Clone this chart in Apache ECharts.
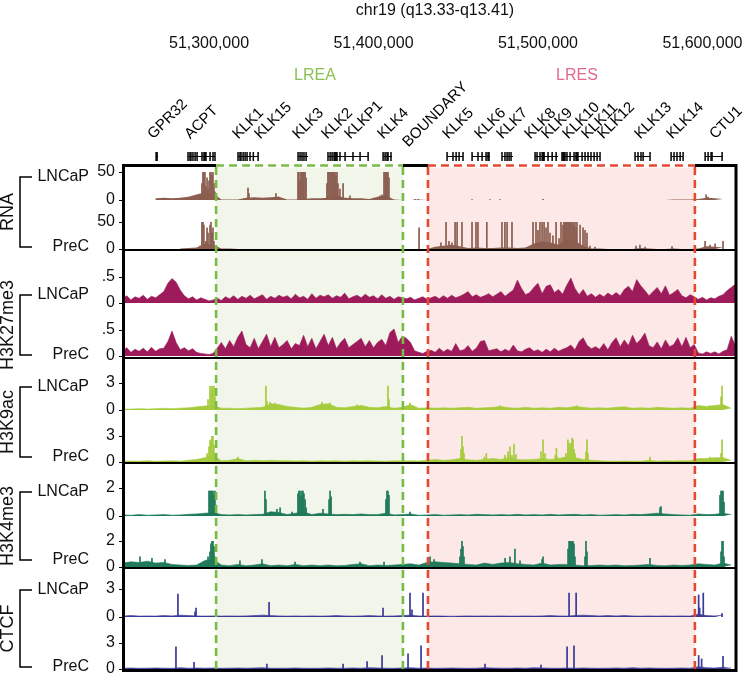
<!DOCTYPE html>
<html><head><meta charset="utf-8">
<script src="https://cdn.jsdelivr.net/npm/echarts@6/dist/echarts.min.js"></script>
<style>html,body{margin:0;padding:0;background:#fff}#c{width:746px;height:677px}</style>
</head><body><div id="c"></div>
<script>
// ---------- data (positions in kb on chr19) ----------
const xMinKb = 51247.7, xMaxKb = 51620.4;
const posTicks = [51300, 51400, 51500, 51600];
const trackNames = ['RNA', 'H3K27me3', 'H3K9ac', 'H3K4me3', 'CTCF'];
const cellLines = ['LNCaP', 'PreC'];
const trackTickLabel = [50, 0.5, 3, 2, 3];
const regionNames = ['LREA', 'LRES'];
const regionStart = [51304.3, 51433.1];
const regionEnd = [51417.9, 51595.4];

const bgStart = 51247.5, bgStep = 5, k27Step = 2.5;

const rnaL_bg = [null,null,null,null,3,4,3,4,6,10, 14,12,1,1,1,4,5,4,5,6, 1,1,2,3,3,4,8,4,3,3, 2,6,8,1,0,0,1,0,0,0, 0,0,0,0,0,0,0,0,0,0, 0,0,0,0,0,0,0,0,0,0, 0,0,0,0,0,0,0,1,1,1, 2,4,3,2,null];
const rnaP_bg = [null,null,null,null,null,null,null,1,2,3, 10,8,1,1,0,0,0,0,0,0, 0,0,0,0,0,0,0,0,0,0, 0,0,0,0,0,0,0,0,4,6, 8,5,2,3,2,2,3,3,2,3, 10,14,12,8,20,15,6,1,1,0, 0,0,0,2,1,0,0,1,0,0, 1,5,4,3,null];
const rnaL_pk = [[51294.5,8],[51295.7,30],[51296.3,50],[51296.9,50],[51297.5,50],[51298.1,25],[51298.8,40],[51299.4,20],[51300.0,35],[51300.6,50],[51301.2,50],[51301.8,45],[51302.4,50],[51303.0,30],[51303.6,15],
 [51323.7,22],[51324.3,12],[51340.7,12],[51342.0,6],
 [51354.1,50],[51354.7,50],[51355.3,35],[51355.9,50],[51356.5,50],[51357.1,50],[51357.7,50],[51358.4,50],[51359.0,40],
 [51371.7,30],[51372.3,50],[51372.9,50],[51373.6,50],[51374.2,50],[51374.8,50],[51375.4,50],[51376.0,50],[51376.6,50],[51377.2,45],[51377.8,50],[51378.4,30],[51379.6,20],[51381.5,30],[51385.7,8],
 [51404.0,8],[51405.2,10],[51406.4,50],[51407.0,50],[51407.6,50],[51408.2,50],[51408.8,50],[51409.4,40],
 [51425.2,2],[51427.1,2],[51459.9,1.5],[51470.8,1.5],[51476.9,1.5],[51503.1,2],[51602.2,10],[51603.4,6]];
const rnaP_pk = [[51294.5,6],[51295.7,50],[51296.3,50],[51296.9,45],[51298.1,15],[51298.8,40],[51299.4,30],[51300.6,45],[51301.2,50],[51301.8,30],[51302.4,40],[51303.0,15],
 [51427.7,40],
 [51441.0,12],[51444.1,50],[51445.9,15],[51447.7,12],[51449.6,50],[51450.8,50],[51453.8,50],
 [51459.9,50],[51462.3,50],[51463.5,50],[51468.9,50],
 [51478.1,50],[51479.9,50],[51481.2,50],[51484.2,50],
 [51497.0,50],[51498.8,50],[51500.0,35],[51501.2,50],[51502.5,50],[51503.7,50],[51504.9,40],[51506.1,50],[51507.3,30],[51509.1,25],[51511.0,50],[51512.8,20],[51514.0,50],
 [51515.2,45],[51515.8,50],[51516.4,50],[51517.0,50],[51517.6,50],[51518.3,50],[51518.9,50],[51519.5,50],[51520.1,50],[51520.7,50],[51521.3,45],[51521.9,50],[51522.5,50],[51523.1,40],[51523.7,50],
 [51525.6,45],[51527.4,40],[51528.6,35],[51529.8,30],[51531.6,6],[51534.7,4],
 [51559.6,6],[51562.0,8],[51565.1,4],[51581.5,5],
 [51601.6,15],[51604.6,8],[51607.7,10],[51612.5,15]];

// H3K27me3 in hundredths, 2.5 kb bins
const k27L_bg = [8,14,6,12,9,15,7,13,10,16, 22,38,47,40,25,14,8,12,6,10, 7,4,6,9,5,12,8,14,7,13, 9,15,8,12,16,7,13,9,15,11,
 14,8,17,10,13,7,18,9,15,12, 16,9,14,11,19,8,12,15,10,17, 11,14,8,16,9,13,7,12,10,8, 11,6,9,12,7,10,13,8,14,9,
 15,10,13,17,22,12,16,11,14,18, 12,17,22,13,19,25,44,28,16,20, 30,38,18,32,35,20,26,17,34,48, 28,16,26,13,18,11,17,12,19,14,
 20,14,26,32,22,45,33,24,14,22, 30,18,33,15,20,26,14,10,16,12, 7,11,6,10,8,13,16,24,30,36];
const k27P_bg = [10,16,7,13,9,15,8,17,9,14, 15,28,48,26,12,16,10,14,7,5, 4,3,5,15,26,14,30,18,36,48, 22,16,34,14,28,42,18,36,16,22,
 30,14,24,20,40,18,34,14,28,42, 20,36,14,26,34,16,22,28,34,18, 30,16,26,32,20,45,52,26,38,34, 26,10,7,5,9,11,7,15,8,13,
 9,24,10,12,20,9,15,28,30,10, 12,14,8,13,9,21,10,8,13,16, 9,12,7,13,8,15,9,13,16,21, 12,28,35,20,14,18,13,24,12,26,
 35,18,31,20,40,24,32,44,20,16, 27,14,31,18,22,35,18,36,16,22, 6,4,8,5,8,4,9,12,38,20];

const k9L_bg = [0.1,0.1,0.15,0.1,0.15,0.2,0.15,0.2,0.25,0.35, 0.45,0.5,0.2,0.2,0.15,0.2,0.25,0.3,0.7,0.6, 0.4,0.3,0.2,0.3,0.6,0.7,0.3,0.25,0.4,0.5,
 0.3,0.25,0.4,0.2,0.3,0.6,0.2,0.25,0.2,0.25, 0.2,0.25,0.3,0.2,0.25,0.3,0.4,0.25,0.2,0.3, 0.2,0.25,0.2,0.3,0.25,0.4,0.3,0.2,0.25,0.2,
 0.3,0.35,0.2,0.25,0.2,0.3,0.25,0.2,0.25,0.2, 0.5,0.4,0.5,0.6,0.2];
const k9P_bg = [0.1,0.12,0.1,0.15,0.1,0.12,0.15,0.1,0.2,0.3, 0.5,0.8,0.15,0.2,0.4,0.15,0.2,0.15,0.2,0.15, 0.15,0.12,0.15,0.1,0.15,0.12,0.15,0.1,0.15,0.12,
 0.15,0.12,0.1,0.15,0.12,0.15,0.12,0.2,0.3,0.2, 0.25,0.4,0.25,0.2,0.3,0.4,0.3,0.5,0.3,0.25, 0.3,0.4,0.3,0.4,0.6,0.5,0.3,0.2,0.15,0.1,
 0.1,0.12,0.1,0.1,0.2,0.1,0.15,0.12,0.15,0.15, 0.4,0.4,0.5,0.5,0.2];
const k9L_pk = [[51299.4,1.2],[51300.6,2.7],[51301.2,2.2],[51301.8,2.7],[51302.4,2.5],[51303.0,2.7],[51303.6,1.5],[51334.6,2.7],[51335.2,1.0],[51337.1,0.9],[51340.1,0.8],[51368.7,0.9],[51373.6,0.8],[51390.0,0.6],[51408.8,2.7],[51409.4,1.2],[51422.2,0.8],[51476.9,0.5],[51523.7,0.5],[51604.6,0.5],[51611.3,1.5],[51611.9,2.7]];
const k9P_pk = [[51298.8,1.0],[51300.0,1.8],[51300.6,2.5],[51301.2,2.6],[51301.8,3.0],[51302.4,3.0],[51303.0,2.0],[51303.6,1.0],[51317.6,0.6],[51453.2,1.5],[51453.8,3.0],[51454.4,1.8],[51455.0,1.0],[51467.4,0.6],[51468.6,1.0],[51480.0,0.8],[51481.8,1.2],[51483.0,1.8],[51484.2,0.8],[51485.4,2.1],[51486.6,0.9],[51501.8,1.2],[51503.1,2.6],[51504.3,1.0],[51510.6,0.8],[51511.2,1.6],[51511.8,0.6],[51517.0,1.0],[51518.2,2.6],[51518.9,2.2],[51519.5,1.8],[51520.1,2.2],[51520.7,2.8],[51521.3,2.6],[51521.9,1.5],[51522.5,1.0],[51529.2,1.2],[51529.8,2.6],[51530.4,1.0],[51568.1,0.6],[51604.6,0.6],[51611.3,1.0],[51611.9,2.6]];

const k4L_bg = [0.08,0.05,0.1,0.06,0.08,0.1,0.06,0.08,0.12,0.15, 0.2,0.25,0.1,0.08,0.1,0.08,0.1,0.12,0.3,0.25, 0.1,0.2,0.3,0.1,0.2,0.15,0.1,0.12,0.1,0.15,
 0.1,0.1,0.2,0.08,0.1,0.15,0.06,0.08,0.1,0.06, 0.08,0.1,0.08,0.12,0.1,0.08,0.1,0.08,0.12,0.08, 0.1,0.08,0.12,0.08,0.1,0.12,0.08,0.1,0.06,0.08,
 0.1,0.08,0.12,0.1,0.15,0.2,0.15,0.1,0.08,0.06, 0.15,0.1,0.12,0.2,0.1];
const k4P_bg = [0.3,0.4,0.35,0.45,0.3,0.35,0.2,0.15,0.12,0.15, 0.5,0.6,0.15,0.1,0.2,0.1,0.15,0.25,0.1,0.15, 0.1,0.2,0.1,0.15,0.1,0.15,0.1,0.12,0.2,0.25,
 0.1,0.15,0.12,0.15,0.2,0.25,0.15,0.35,0.4,0.35, 0.3,0.25,0.2,0.15,0.3,0.2,0.3,0.35,0.25,0.2, 0.15,0.3,0.15,0.2,0.2,0.15,0.1,0.12,0.15,0.12,
 0.15,0.1,0.12,0.15,0.2,0.12,0.1,0.15,0.12,0.15, 0.25,0.2,0.15,0.3,0.15];
const k4L_pk = [[51300.0,1.8],[51300.6,1.8],[51301.2,1.8],[51301.8,1.8],[51302.4,1.8],[51303.0,1.5],[51303.6,1.8],[51304.2,0.8],[51334.0,1.8],[51334.6,1.2],[51341.3,0.5],[51343.2,0.6],[51350.5,0.3],[51354.1,1.6],[51354.7,1.8],[51355.3,1.8],[51355.9,1.4],[51356.5,1.8],[51357.1,1.8],[51357.7,1.6],[51358.4,1.2],[51359.0,0.6],[51369.3,0.5],[51373.0,1.2],[51373.6,1.8],[51374.2,1.4],[51407.6,1.2],[51408.2,1.8],[51408.8,1.8],[51409.4,1.5],[51422.2,0.3],[51574.2,0.6],[51574.8,0.7],[51610.7,1.5],[51611.3,1.8],[51611.9,1.8],[51612.5,1.8],[51613.1,1.0]];
const k4P_pk = [[51258.0,0.8],[51265.3,0.7],[51273.2,0.6],[51299.4,0.8],[51300.6,1.2],[51301.2,1.8],[51301.8,2.1],[51302.4,2.1],[51303.0,1.6],[51303.6,0.8],[51318.8,0.5],[51332.2,0.6],[51352.3,0.4],[51391.8,0.4],[51406.4,0.4],[51434.4,0.8],[51436.8,0.6],[51452.6,0.8],[51453.2,1.4],[51453.8,2.1],[51454.4,1.6],[51455.0,0.8],[51480.0,0.7],[51483.0,0.8],[51486.0,1.4],[51489.1,0.5],[51502.5,0.6],[51503.1,0.8],[51518.3,1.4],[51518.9,2.1],[51519.5,2.1],[51520.1,2.1],[51520.7,2.1],[51521.3,2.1],[51521.9,1.8],[51522.5,0.8],[51528.6,0.8],[51529.2,2.0],[51529.8,1.2],[51568.1,0.7],[51611.3,1.2],[51611.9,2.0],[51612.5,2.0],[51613.1,0.8]];

const ctcfL_bg = [0.1,0.15,0.1,0.12,0.1,0.15,0.12,0.2,0.15,0.12, 0.1,0.12,0.1,0.12,0.1,0.12,0.15,0.2,0.15,0.12, 0.1,0.12,0.1,0.12,0.1,0.12,0.15,0.12,0.1,0.12,
 0.15,0.12,0.1,0.12,0.15,0.2,0.12,0.1,0.12,0.1, 0.08,0.1,0.12,0.1,0.12,0.1,0.12,0.1,0.1,0.12, 0.1,0.12,0.15,0.12,0.1,0.15,0.2,0.15,0.12,0.15,
 0.12,0.15,0.12,0.1,0.12,0.1,0.12,0.1,0.12,0.1, 0.3,0.15,0.12,0.2,null];
const ctcfP_bg = [0.1,0.12,0.08,0.1,0.12,0.1,0.08,0.15,0.1,0.12, 0.1,0.12,0.08,0.1,0.12,0.1,0.12,0.15,0.1,0.08, 0.1,0.12,0.1,0.08,0.1,0.12,0.1,0.1,0.12,0.1,
 0.15,0.12,0.1,0.08,0.12,0.15,0.1,0.12,0.08,0.1, 0.12,0.1,0.08,0.1,0.15,0.12,0.1,0.1,0.12,0.1, 0.15,0.12,0.1,0.08,0.12,0.1,0.12,0.1,0.08,0.1,
 0.12,0.1,0.15,0.1,0.12,0.1,0.08,0.1,0.12,0.1, 0.25,0.15,0.12,0.2,0.1];
const ctcfL_pk = [[51281.1,2.5],[51291.5,0.6],[51292.1,1.0],[51336.5,1.6],[51405.8,1.0],[51422.2,2.6],[51423.4,0.8],[51430.1,2.6],[51518.9,2.6],[51523.2,2.6],[51597.7,2.4],[51598.3,1.0],[51600.5,2.6],[51611.9,0.4]];
const ctcfP_pk = [[51279.9,2.6],[51290.9,0.8],[51335.2,0.6],[51381.5,0.6],[51396.1,0.9],[51405.2,1.6],[51421.0,1.8],[51428.9,2.7],[51467.8,0.6],[51501.8,0.5],[51517.7,2.6],[51521.9,2.7],[51597.7,1.6],[51599.5,1.2],[51612.5,1.5]];

// genes
const geneNames = ['GPR32','ACPT','KLK1','KLK15','KLK3','KLK2','KLKP1','KLK4','BOUNDARY','KLK5','KLK6','KLK7','KLK8','KLK9','KLK10','KLK11','KLK12','KLK13','KLK14','CTU1'];
const geneLabelKb = [51267.5,51290.0,51319.2,51332.6,51355.7,51373.3,51387.3,51407.4,51422.6,51446.9,51466.4,51479.7,51496.8,51507.1,51519.9,51531.4,51541.1,51563.6,51583.1,51609.2];
const geneSpans = [[51267.8,51269.0],[51287.2,51303.6],[51317.6,51329.8],[51354.1,51360.2],[51372.3,51396.7],[51405.8,51411.3],[51444.7,51454.4],[51459.9,51470.8],[51478.1,51484.8],[51498.2,51512.2],[51514.6,51537.7],[51559.0,51568.1],[51580.9,51588.2],[51601.6,51612.5]];
const exonPos = [51267.8,51268.4, 51287.2,51288.4,51289.0,51290.2,51291.5,51292.7,51295.7,51296.9,51297.5,51298.1,51300.6,51302.4,51303.6,
 51317.6,51318.8,51319.4,51320.7,51321.9,51323.1,51324.9,51326.9,51329.8, 51354.1,51355.3,51356.5,51357.7,51359.0,
 51372.3,51373.6,51374.8,51376.0,51376.6,51377.2,51377.8,51379.6,51382.7,51387.5,51391.8,51396.7, 51405.8,51407.0,51408.2,51408.8,51410.6,
 51444.7,51448.3,51450.2,51452.0,51454.4, 51459.9,51463.5,51466.0,51468.4,51469.6,51470.2, 51478.1,51479.9,51481.2,51482.4,51483.6,
 51498.2,51499.4,51501.2,51502.5,51503.1,51503.7,51506.1,51508.6,51511.0,
 51514.6,51515.2,51515.8,51516.4,51517.6,51519.5,51521.9,51523.1,51523.7,51524.3,51526.8,51528.6,51530.4,51532.2,51534.1,51535.9,51537.7,
 51559.0,51560.8,51562.6,51563.9,51568.1, 51580.9,51582.7,51584.5,51586.4,51588.2, 51601.6,51603.4,51605.2,51605.8,51611.9];

// ---------- layout / style ----------
const FONT = '"Liberation Sans", Arial, sans-serif';
const colors = ['#8b5e50', '#9e1b5b', '#a6cc3e', '#1f7a5b', '#3b3a96'];
const regionFill = ['#f2f5ea', '#fce9e7'];
const regionLine = ['#78bb45', '#e4492f'];
const regionText = ['#8cc152', '#e3698d'];
const grids = [
  {top:172,height:28},{top:222,height:27},{top:251,height:52},{top:304,height:52},
  {top:383,height:27},{top:436,height:26},{top:488,height:28},{top:541,height:26},
  {top:589,height:28},{top:643,height:26}];
const axisMax = [50, 1, 3, 2, 3];
const bgData = [rnaL_bg, rnaP_bg, k27L_bg, k27P_bg, k9L_bg, k9P_bg, k4L_bg, k4P_bg, ctcfL_bg, ctcfP_bg];
const pkData = [rnaL_pk, rnaP_pk, null, null, k9L_pk, k9P_pk, k4L_pk, k4P_pk, ctcfL_pk, ctcfP_pk];

const chart = echarts.init(document.getElementById('c'));
const xAxes = [], yAxes = [], series = [];
grids.forEach((g, i) => {
  const t = Math.floor(i / 2);
  const lab = trackTickLabel[t];
  xAxes.push({
    type: 'value', gridIndex: i, min: xMinKb, max: xMaxKb,
    show: i === 0, position: 'top', offset: 118,
    axisLine: {show: false}, axisTick: {show: false}, splitLine: {show: false},
    axisLabel: {customValues: posTicks, fontSize: 16, fontFamily: FONT, color: '#111', margin: 2,
      formatter: v => Math.round(v * 1000).toLocaleString('en-US')}
  });
  yAxes.push({
    type: 'value', gridIndex: i, min: 0, max: axisMax[t],
    axisLine: {show: false}, splitLine: {show: false},
    axisTick: {show: true, length: 4, customValues: [0, lab], lineStyle: {color: '#000', width: 1}},
    axisLabel: {customValues: [0, lab], fontSize: 16, fontFamily: FONT, color: '#111', margin: 8,
      formatter: v => v === 0 ? '0' : (v < 1 ? '.' + String(v).split('.')[1] : String(v))}
  });
  const step = t === 1 ? k27Step : bgStep;
  const scale = t === 1 ? 0.01 : 1;
  series.push({
    type: 'line', xAxisIndex: i, yAxisIndex: i, silent: true, symbol: 'none', showSymbol: false,
    connectNulls: false, z: 2,
    data: bgData[i].map((v, j) => [bgStart + step * j, v == null ? null : v * scale]),
    lineStyle: {width: t === 0 ? 0 : 0.6, color: colors[t]},
    areaStyle: {color: colors[t], opacity: 1}
  });
  if (pkData[i]) {
    series.push({
      type: 'bar', xAxisIndex: i, yAxisIndex: i, silent: true, z: 3, barWidth: 1.7,
      data: pkData[i], itemStyle: {color: colors[t]}
    });
  }
});

// regions: fill
series.push({
  type: 'custom', xAxisIndex: 0, yAxisIndex: 0, z: 1, silent: true, clip: false,
  data: regionStart.map((s, k) => [s, regionEnd[k]]),
  renderItem: (p, api) => {
    const x1 = api.coord([api.value(0), 0])[0], x2 = api.coord([api.value(1), 0])[0];
    return {type: 'rect', shape: {x: x1, y: 166, width: x2 - x1, height: 503}, style: {fill: regionFill[p.dataIndex]}};
  }
});
// regions: dashed outlines
series.push({
  type: 'custom', xAxisIndex: 0, yAxisIndex: 0, z: 60, silent: true, clip: false,
  data: regionStart.map((s, k) => [s, regionEnd[k]]),
  renderItem: (p, api) => {
    const x1 = api.coord([api.value(0), 0])[0], x2 = api.coord([api.value(1), 0])[0];
    const c = regionLine[p.dataIndex];
    const ds = {stroke: c, lineWidth: 2.6, lineDash: [8, 5]};
    return {type: 'group', children: [
      {type: 'line', shape: {x1: x1, y1: 165.5, x2: x2, y2: 165.5}, style: {stroke: '#fff', lineWidth: 4}},
      {type: 'line', shape: {x1: x1, y1: 165.5, x2: x2, y2: 165.5}, style: ds},
      {type: 'line', shape: {x1: x1, y1: 167, x2: x1, y2: 669}, style: ds},
      {type: 'line', shape: {x1: x2, y1: 167, x2: x2, y2: 669}, style: ds}
    ]};
  }
});
// gene glyph lines
series.push({
  type: 'custom', xAxisIndex: 0, yAxisIndex: 0, z: 5, silent: true, clip: false,
  data: geneSpans,
  renderItem: (p, api) => {
    const x1 = api.coord([api.value(0), 0])[0], x2 = api.coord([api.value(1), 0])[0];
    return {type: 'line', shape: {x1: x1, y1: 156.5, x2: x2, y2: 156.5}, style: {stroke: '#000', lineWidth: 1}};
  }
});
// exons
series.push({
  type: 'custom', xAxisIndex: 0, yAxisIndex: 0, z: 5, silent: true, clip: false,
  data: exonPos.map(v => [v]),
  renderItem: (p, api) => {
    const x = api.coord([api.value(0), 0])[0];
    return {type: 'rect', shape: {x: x - 0.7, y: 152, width: 1.5, height: 9}, style: {fill: '#000'}};
  }
});
// gene labels
series.push({
  type: 'custom', xAxisIndex: 0, yAxisIndex: 0, z: 5, silent: true, clip: false,
  data: geneLabelKb.map(v => [v]),
  renderItem: (p, api) => {
    const x = api.coord([api.value(0), 0])[0];
    const name = geneNames[p.dataIndex];
    const y = name === 'BOUNDARY' ? 150 : 142;
    return {type: 'text', x: x, y: y, rotation: Math.PI / 4,
      style: {text: name, x: 0, y: 0, align: 'left', verticalAlign: 'bottom', font: '15px ' + FONT, fill: '#000'}};
  }
});

// ---------- static decorations ----------
const graphic = [];
graphic.push({type: 'text', x: 435, y: 11, style: {text: 'chr19 (q13.33-q13.41)', align: 'center', verticalAlign: 'middle', font: '16px ' + FONT, fill: '#111'}});
graphic.push({type: 'text', x: 315, y: 76, style: {text: regionNames[0], align: 'center', verticalAlign: 'middle', font: '16px ' + FONT, fill: regionText[0]}});
graphic.push({type: 'text', x: 577, y: 76, style: {text: regionNames[1], align: 'center', verticalAlign: 'middle', font: '16px ' + FONT, fill: regionText[1]}});
// frame
const frameW = {stroke: '#000', lineWidth: 3};
[[123, 165.5, 736, 165.5], [123, 670.5, 736, 670.5], [123.5, 164, 123.5, 672], [736, 164, 736, 672]].forEach(s =>
  graphic.push({type: 'line', z: 50, shape: {x1: s[0], y1: s[1], x2: s[2], y2: s[3]}, style: frameW}));
[250, 358, 463, 568].forEach(y =>
  graphic.push({type: 'line', z: 50, shape: {x1: 123, y1: y, x2: 736, y2: y}, style: {stroke: '#000', lineWidth: 2}}));
// left labels
const bracketTop = [177, 295, 387, 492, 590];
const bracketBot = [247, 355, 457, 560, 667];
trackNames.forEach((n, t) => {
  const y1 = bracketTop[t], y2 = bracketBot[t];
  graphic.push({type: 'polyline', shape: {points: [[32, y1], [20, y1], [20, y2], [32, y2]]}, style: {stroke: '#000', lineWidth: 1.5, fill: null}});
  graphic.push({type: 'text', x: 8, y: (y1 + y2) / 2, rotation: Math.PI / 2,
    style: {text: n, align: 'center', verticalAlign: 'middle', font: '18px ' + FONT, fill: '#111'}});
  graphic.push({type: 'text', x: 89, y: y1, style: {text: cellLines[0], align: 'right', verticalAlign: 'middle', font: '16px ' + FONT, fill: '#111'}});
  graphic.push({type: 'text', x: 89, y: y2, style: {text: cellLines[1], align: 'right', verticalAlign: 'middle', font: '16px ' + FONT, fill: '#111'}});
});

chart.setOption({
  animation: false,
  backgroundColor: '#fff',
  grid: grids.map(g => ({left: 123, right: 10, top: g.top, height: g.height})),
  xAxis: xAxes, yAxis: yAxes, series: series, graphic: graphic
});
</script></body></html>
